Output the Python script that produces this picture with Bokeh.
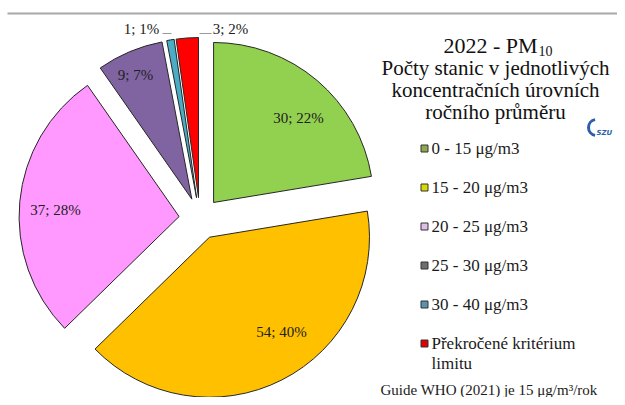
import numpy as np
from bokeh.plotting import figure
from bokeh.models import Range1d
from bokeh.core.properties import value
from bokeh.embed import file_html
from bokeh.resources import INLINE

# ---------------- data ----------------
categories = ["0 - 15 μg/m3", "15 - 20 μg/m3", "20 - 25 μg/m3",
              "25 - 30 μg/m3", "30 - 40 μg/m3", "Překročené kritérium limitu"]
counts = [30, 54, 37, 9, 1, 3]
slice_colors = ["#92D050", "#FFC000", "#FF99FF", "#8064A2", "#4BACC6", "#FF0000"]
legend_colors = ["#8DA84E", "#D9D900", "#DDBFE8", "#6E6E6E", "#5B93AE", "#E00000"]
title_main = "2022 - PM"
title_sub = "10"
subtitle_lines = ["Počty stanic v jednotlivých", "koncentračních úrovních", "ročního průměru"]
footer = "Guide WHO (2021) je 15 μg/m³/rok"

# ---------------- layout ----------------
W, H = 617, 397
def Y(s):  # screen y -> data y
    return 405 - s

FONT = value("Liberation Serif")
p = figure(width=W, height=H, x_range=Range1d(0, W), y_range=Range1d(405 - H, 405),
           output_backend="svg", toolbar_location=None, min_border=0,
           x_axis_location=None, y_axis_location=None)
p.grid.visible = False
p.outline_line_color = None
p.background_fill_color = "white"

# top rule
p.segment(x0=[7], y0=[Y(13)], x1=[W], y1=[Y(13)], line_color="#a8a8a8", line_width=2)

# pie
vals = np.array(counts, dtype=float)
total = vals.sum()
cum = np.cumsum(vals) / total * 360.0
start = cum - vals / total * 360.0
end = cum
mid = (start + end) / 2.0
cx, cy, R, d = 199.5, Y(218), 160, 21
xs = cx + d * np.sin(np.radians(mid))
ys = cy + d * np.cos(np.radians(mid))
p.wedge(x=xs, y=ys, radius=R,
        start_angle=np.radians(90 - end), end_angle=np.radians(90 - start),
        fill_color=slice_colors, line_color="#262626", line_width=1)

# data labels
pcts = [f"{int(round(100 * v / total))}%" for v in counts]
labels = [f"{c}; {pc}" for c, pc in zip(counts, pcts)]
label_screen = [(298, 117), (281, 331), (55, 209), (135, 74), (141, 28), (230, 28)]
for lab, (sx, sy) in zip(labels, label_screen):
    p.text(x=[sx], y=[Y(sy)], text=[lab], text_font=FONT, text_font_size="15px",
           text_align="center", text_baseline="middle", text_color="#202020")
# leader lines for small slices
p.segment(x0=[162, 199], y0=[Y(33), Y(33)], x1=[171, 211], y1=[Y(33), Y(33)],
          line_color="#9a9a9a", line_width=1)

# title
p.text(x=[537], y=[Y(45)], text=[title_main], text_font=FONT, text_font_size="22px",
       text_align="right", text_baseline="middle", text_color="#111111")
p.text(x=[538], y=[Y(50)], text=[title_sub], text_font=FONT, text_font_size="14px",
       text_align="left", text_baseline="middle", text_color="#111111")
tx = 495
for i, line in enumerate(subtitle_lines):
    p.text(x=[tx], y=[Y(67 + 22 * i)], text=[line], text_font=FONT, text_font_size="21px",
           text_align="center", text_baseline="middle", text_color="#111111")

# logo
p.arc(x=[596], y=[Y(127)], radius=8, start_angle=np.radians(100), end_angle=np.radians(260),
      line_color="#2b5fa8", line_width=3)
p.text(x=[596], y=[Y(132)], text=["SZU"], text_font=value("DejaVu Sans"), text_font_size="7px",
       text_font_style="bold italic", text_color="#2b5fa8", text_baseline="middle")

# legend
leg_y = [148, 187, 226, 265, 304, 343]
for cat, col, sy in zip(categories, legend_colors, leg_y):
    p.rect(x=[424], y=[Y(sy)], width=7, height=7, fill_color=col, line_color="#333333", line_width=1)
    if cat.startswith("Překročené"):
        p.text(x=[431], y=[Y(sy)], text=["Překročené kritérium"], text_font=FONT, text_font_size="17px",
               text_align="left", text_baseline="middle", text_color="#1a1a1a")
        p.text(x=[431], y=[Y(sy + 20)], text=["limitu"], text_font=FONT, text_font_size="17px",
               text_align="left", text_baseline="middle", text_color="#1a1a1a")
    else:
        p.text(x=[431], y=[Y(sy)], text=[cat], text_font=FONT, text_font_size="17px",
               text_align="left", text_baseline="middle", text_color="#1a1a1a")

# footer
p.text(x=[380], y=[Y(389)], text=[footer], text_font=FONT, text_font_size="15px",
       text_align="left", text_baseline="middle", text_color="#1a1a1a")

open("out.html", "w").write(file_html(p, INLINE))
